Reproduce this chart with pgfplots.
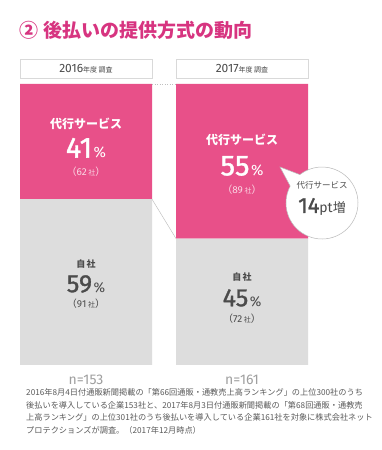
\documentclass[border=0pt]{standalone}
\usepackage{pgfplots}
\pgfplotsset{compat=1.18}
\usetikzlibrary{calc}
\usepackage{fontspec}
\setmainfont{Noto Sans CJK JP}
\newfontfamily\numfont{Fira Sans}
\newfontfamily\numfontb[FakeBold=1.2]{Fira Sans}
\definecolor{pinkbar}{RGB}{232,80,137}
\definecolor{titlepink}{RGB}{215,52,128}
\definecolor{graybar}{RGB}{221,221,221}
\definecolor{darktext}{RGB}{75,75,75}
\definecolor{notegray}{RGB}{90,90,90}
\definecolor{lightpink}{RGB}{250,215,228}
\pgfplotsset{myax/.style={at={(0pt,85pt)}, anchor=south west, scale only axis,
  width=382pt, height=281pt, xmin=-0.551282, xmax=1.897436, ymin=0, ymax=100,
  hide axis, clip=false}}
\newcommand\bigpct[3]{{\numfontb\fontsize{#1}{#1}\selectfont #3\hspace{1.5pt}\numfont\fontsize{#2}{#2}\selectfont\%}}
\newcommand\cnt[1]{\fontsize{10}{10}\selectfont （\numfont #1\,\rmfamily\fontsize{7}{7}\selectfont 社\fontsize{10}{10}\selectfont ）}
\begin{document}
\begin{tikzpicture}[x=1pt,y=1pt]
\path[use as bounding box, fill=white] (0,0) rectangle (382,450);
% title
\node[anchor=west, text=titlepink, font=\fontsize{19}{20}\selectfont\bfseries, inner sep=0pt] at (19,420) {②\hspace{5pt}後払いの提供方式の動向};
% header boxes
\draw[gray!30, fill=white] (20,372) rectangle (152,391);
\draw[gray!30, fill=white] (176,372) rectangle (308,391);
\node[text=darktext, inner sep=0pt] at (86,381.5) {\numfont\fontsize{12}{12}\selectfont 2016\rmfamily\fontsize{7}{7}\selectfont 年度 調査};
\node[text=darktext, inner sep=0pt] at (242,381.5) {\numfont\fontsize{12}{12}\selectfont 2017\rmfamily\fontsize{7}{7}\selectfont 年度 調査};
% bars
\begin{axis}[myax, ybar stacked, bar width=132pt]
\addplot[fill=graybar, draw=none] coordinates {(0,59) (1,45)};
\addplot[fill=pinkbar, draw=none] coordinates {(0,41) (1,55)};
\end{axis}
\begin{axis}[myax]
\addplot[gray!55, line width=0.4pt, no marks] coordinates {(0.423077,59) (0.576923,45)};
\addplot[gray!50, dotted, line width=0.5pt, no marks] coordinates {(0.423077,100) (0.576923,100)};
\end{axis}
% 2016 labels
\node[text=white, font=\fontsize{12}{12}\selectfont\bfseries, inner sep=0pt] at (86,326) {代行サービス};
\node[text=white, inner sep=0pt] at (86,302) {\bigpct{29}{15}{41}};
\node[text=lightpink, inner sep=0pt] at (86,278) {\cnt{62}};
\node[text=darktext, font=\fontsize{9}{9}\selectfont\bfseries, inner sep=0pt] at (86,186) {自\,社};
\node[text=darktext, inner sep=0pt] at (86,166) {\bigpct{25}{14}{59}};
\node[text=darktext, inner sep=0pt] at (86,146) {\cnt{91}};
% 2017 labels
\node[text=white, font=\fontsize{12}{12}\selectfont\bfseries, inner sep=0pt] at (242,310) {代行サービス};
\node[text=white, inner sep=0pt] at (242,284) {\bigpct{29}{15}{55}};
\node[text=lightpink, inner sep=0pt] at (242,260) {\cnt{89}};
\node[text=darktext, font=\fontsize{9}{9}\selectfont\bfseries, inner sep=0pt] at (242,173) {自\,社};
\node[text=darktext, inner sep=0pt] at (242,152) {\bigpct{25}{14}{45}};
\node[text=darktext, inner sep=0pt] at (242,131) {\cnt{72}};
% bubble
\draw[gray!55, fill=white, line width=0.5pt] ($(322,247)+(128:36)$) -- (280,283) -- ($(322,247)+(152:36)$) arc[start angle=152, end angle=488, radius=36] -- cycle;
\node[text=darktext, font=\fontsize{8.5}{8.5}\selectfont, inner sep=0pt] at (322,265) {代行サービス};
\node[text=darktext, inner sep=0pt] at (322,243) {\numfontb\fontsize{22}{22}\selectfont 14\numfont\fontsize{14}{14}\selectfont pt\rmfamily\fontsize{13}{13}\selectfont 増};
% n labels
\node[text=gray!75, font=\numfont\fontsize{14}{14}\selectfont, inner sep=0pt] at (86,70) {n=153};
\node[text=gray!75, font=\numfont\fontsize{14}{14}\selectfont, inner sep=0pt] at (242,70) {n=161};
% footnote
\begin{scope}[every node/.style={anchor=base west, inner sep=0pt, text=notegray, font=\fontsize{8.2}{8.2}\selectfont}]
\node at (26,54) {2016年8月4日付通販新聞掲載の「第66回通販・通教売上高ランキング」の上位300社のうち};
\node at (26,41.5) {後払いを導入している企業153社と、2017年8月3日付通販新聞掲載の「第68回通販・通教売};
\node at (26,29) {上高ランキング」の上位301社のうち後払いを導入している企業161社を対象に株式会社ネット};
\node at (26,16.5) {プロテクションズが調査。（2017年12月時点）};
\end{scope}
\end{tikzpicture}
\end{document}
